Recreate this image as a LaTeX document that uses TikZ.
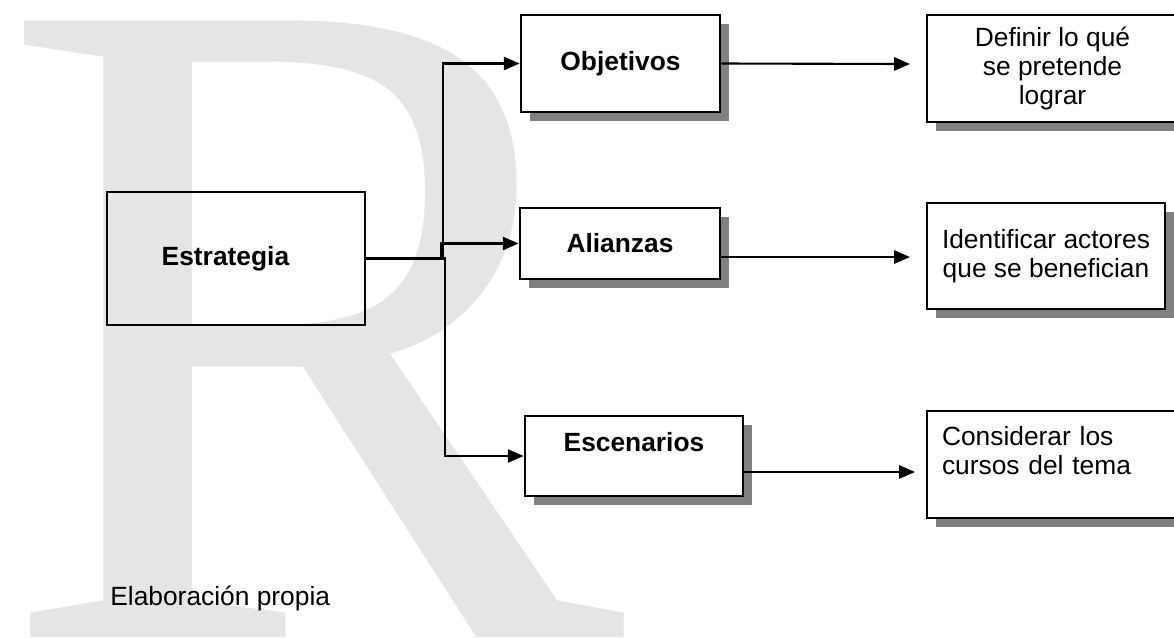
\documentclass[tikz,border=0pt]{standalone}
\usepackage{fontspec}
\setmainfont{Liberation Sans}
\newfontfamily\wmfont{Liberation Serif}
\usetikzlibrary{arrows.meta,shadows}
\definecolor{wm}{RGB}{229,229,229}
\definecolor{shd}{RGB}{128,128,128}
\tikzset{
  txt/.style={font=\fontsize{15}{16.5}\selectfont},
  boldtxt/.style={font=\fontsize{15}{16.5}\selectfont\bfseries},
  mainbox/.style={draw, line width=1.2pt, inner sep=0pt, boldtxt},
  shbox/.style={draw, line width=1.6pt, fill=white, inner sep=0pt, align=center,
    drop shadow={shadow xshift=0.18cm, shadow yshift=-0.18cm, fill=shd, opacity=1}},
  arr/.style={line width=1.2pt, -{Triangle[length=9pt,width=7.5pt]}},
}
\begin{document}
\begin{tikzpicture}[x=0.02cm,y=-0.02cm]
\useasboundingbox (0,0) rectangle (1174,637);
\clip (0,0) rectangle (1174,637);
% watermark
\node[anchor=base west, inner sep=0pt, text=wm,
      font=\wmfont\fontsize{536}{536}\selectfont] (wmR) at (-3,637) {R};

% boxes
\node[mainbox, minimum width=5.16cm, minimum height=2.66cm] (est) at (236,258.5) {Estrategia\hspace*{12pt}};
\node[shbox, boldtxt, minimum width=3.98cm, minimum height=1.94cm] (obj) at (620.5,63.5) {Objetivos};
\node[shbox, boldtxt, minimum width=4.0cm, minimum height=1.42cm] (ali) at (620,243.5) {Alianzas};
\node[shbox, boldtxt, minimum width=4.36cm, minimum height=1.6cm] (esc) at (634,456) {Escenarios\\ \mbox{}};
\node[shbox, txt, minimum width=5.02cm, minimum height=2.14cm] (def) at (1052.5,68.5) {Definir lo qué\\se pretende\\lograr};
\node[shbox, txt, minimum width=4.76cm, minimum height=2.12cm] (ide) at (1046,256) {Identificar actores\\que se benefician};
\node[shbox, txt, minimum width=5.02cm, minimum height=2.14cm, inner xsep=0.3cm, text width=4.42cm, align=left] (con) at (1052.5,464.5) {Considerar los\\cursos del tema\\ \mbox{}};

\node[txt, anchor=base west, inner sep=0pt] (src) at (110,605) {Elaboración propia};

% junction points
\coordinate (jlow) at (445,258.5);
\coordinate (jup) at (443,258.5);
\coordinate (jali) at (441,258.5);
\coordinate (t1) at (910,64);
\coordinate (t2) at (910,257);
\coordinate (t3) at (915,472);

% connectors
\draw[arr] (est.east) -- (jlow) |- (esc.west);
\draw[arr] (jup) |- (obj.west);
\draw[arr] (jali) |- (ali.west);
\draw[arr] (obj.east) -- (t1);
\draw[arr] (ali.east |- t2) -- (t2);
\draw[arr] (esc.east |- t3) -- (t3);
\end{tikzpicture}
\end{document}
